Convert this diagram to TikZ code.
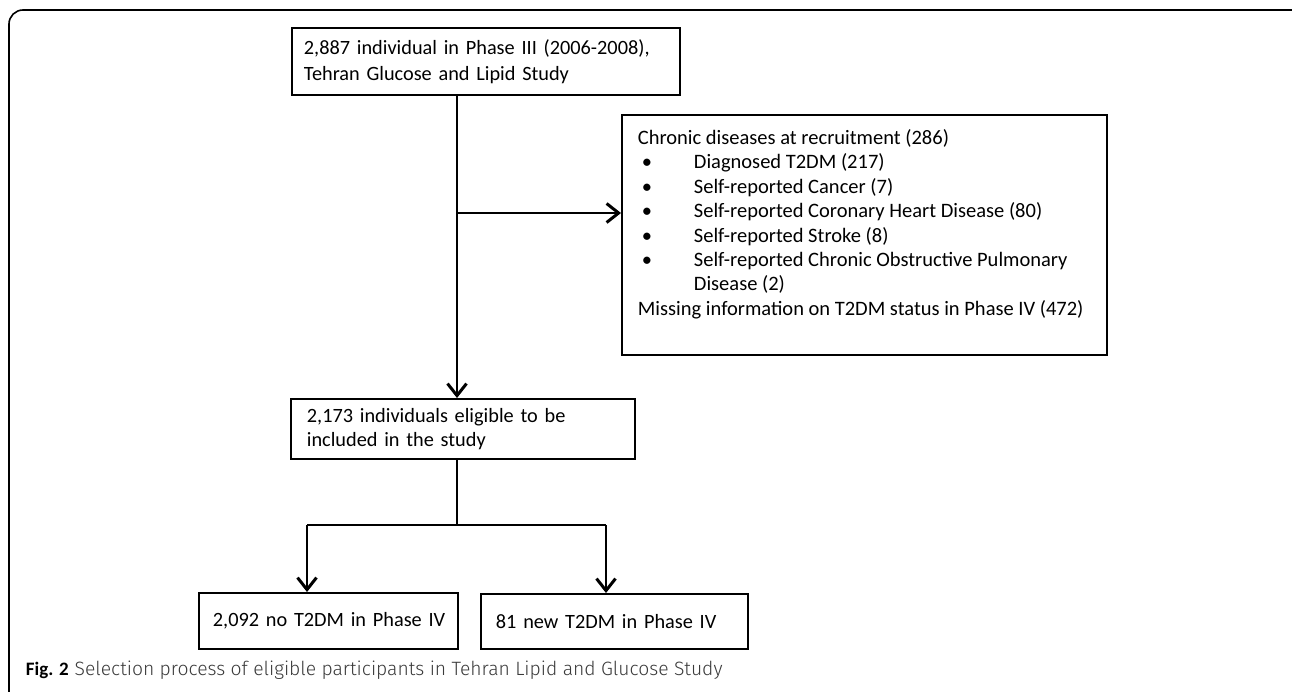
\documentclass[tikz,border=0pt]{standalone}
\usepackage{fontspec}
\setmainfont{Carlito}
\newfontfamily\capfont{Fira Sans Light}
\usetikzlibrary{arrows.meta}
\definecolor{captxt}{HTML}{3A3A3A}
\begin{document}
\begin{tikzpicture}[x=1pt,y=-1pt, line width=1.8pt,
  box/.style={draw, rectangle, anchor=north west, align=left,
    font=\fontsize{20.3}{26}\selectfont, inner ysep=0pt},
  arr/.style={line width=2pt, -{Straight Barb[length=12pt,width=19pt,line width=3pt]}},
  link/.style={line width=2pt}]
\useasboundingbox (0,0) rectangle (1292,691);
\clip (0,0) rectangle (1292,691);
\fill[white] (0,0) rectangle (1292,691);
\draw[line width=1.6pt, rounded corners=14pt] (9,720) -- (9,10) -- (1306,10) -- (1306,720);

\node[box, minimum width=388pt, minimum height=67pt, text width=364pt, inner xsep=12pt] (b1) at (291,27)
  {2,887 individual in Phase III (2006-2008),\\Tehran Glucose and Lipid Study};

\node[draw, anchor=north west, inner sep=0pt, minimum width=485pt, minimum height=240pt] (b2) at (621,114)
  {\parbox[c][240pt][t]{485pt}{\fontsize{20.5}{24.4}\selectfont\raggedright\leftskip=16pt
   \rule{0pt}{29.5pt}Chronic diseases at recruitment (286)\\
   \makebox[56pt][l]{\hspace{4pt}•}Diagnosed T2DM (217)\\
   \makebox[56pt][l]{\hspace{4pt}•}Self-reported Cancer (7)\\
   \makebox[56pt][l]{\hspace{4pt}•}Self-reported Coronary Heart Disease (80)\\
   \makebox[56pt][l]{\hspace{4pt}•}Self-reported Stroke (8)\\
   \makebox[56pt][l]{\hspace{4pt}•}Self-reported Chronic Obstructive Pulmonary\\
   \hspace*{56pt}Disease (2)\\
   Missing information on T2DM status in Phase IV (472)}};

\node[box, font=\fontsize{20.3}{24}\selectfont, minimum width=344pt, minimum height=60pt, text width=312pt, inner xsep=16pt] (b3) at (290,398)
  {2,173 individuals eligible to be\\included in the study};

\node[box, minimum width=259pt, minimum height=56pt, text width=235pt, inner xsep=12pt] (b4) at (198,592)
  {\mbox{\hspace{2pt}2,092 no T2DM in Phase IV}};

\node[box, minimum width=267pt, minimum height=55pt, text width=237pt, inner xsep=15pt] (b5) at (480,593)
  {\mbox{81 new T2DM in Phase IV}};

\coordinate (j1) at (457,213);
\coordinate (j2) at (457,525);
\coordinate (jl) at (307,525);
\coordinate (jr) at (606,525);

\draw[arr] (b1.south -| j1) -- (b3.north -| j1);
\draw[arr] (j1) -- (j1 -| b2.west);
\draw[link] (b3.south -| j2) -- (j2);
\draw[link] (jl) -- (jr);
\draw[arr] (jl) -- (jl |- b4.north);
\draw[arr] (jr) -- (jr |- b5.north);

\node[anchor=base west, inner sep=0pt, text=captxt] (cap) at (25,675)
  {\fontsize{19}{20}\selectfont\textbf{\color{black}Fig. 2}\hspace{6pt}\capfont\fontsize{19.3}{20}\selectfont Selection process of eligible participants in Tehran Lipid and Glucose Study};
\end{tikzpicture}
\end{document}
